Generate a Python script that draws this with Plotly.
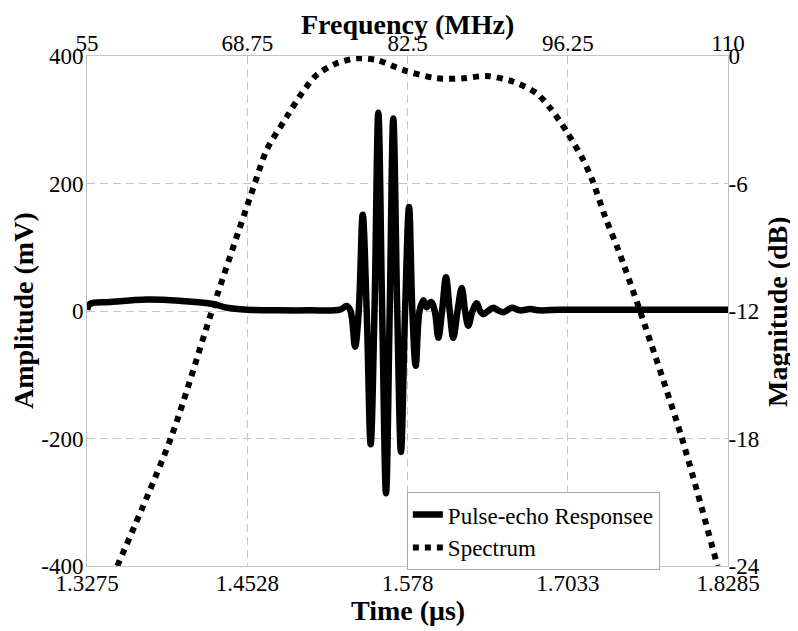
import plotly.graph_objects as go

# ---- Data ----
time_us = [1.3275, 1.3298, 1.3455, 1.3744, 1.4002, 1.4260, 1.4369, 1.4526, 1.4783, 1.5018,
           1.5252, 1.5305, 1.5335, 1.5370, 1.5399, 1.5430, 1.5461, 1.5492, 1.5522, 1.5552,
           1.5582, 1.5612, 1.5641, 1.5669, 1.5700, 1.5729, 1.5761, 1.5792, 1.5818, 1.5844,
           1.5874, 1.5904, 1.5930, 1.5964, 1.5993, 1.6021, 1.6050, 1.6081, 1.6110, 1.6138,
           1.6171, 1.6204, 1.6230, 1.6255, 1.6288, 1.6321, 1.6347, 1.6373, 1.6409, 1.6451,
           1.6487, 1.6529, 1.6558, 1.6595, 1.6659, 1.6738, 1.6816, 1.6972, 1.7285, 1.7676,
           1.8066, 1.8285]
amplitude_mv = [2, 11, 14, 18, 16, 11, 5, 2, 1, 1,
                2, 8, 0, -56, 0, 151, 0, -209, 0, 311,
                0, -286, 0, 302, 0, -221, 0, 163, 0, -86,
                0, 17, 6, 14, 0, -42, 0, 53, 0, -42,
                0, 36, 0, -23, 0, 12, 0, -5, 0, 5,
                1, -2, 1, 5, 1, 3, 1, 2, 2, 2,
                2, 2]

freq_mhz = [57.6, 62.21, 65.70, 69.42, 70.42, 72.14, 73.42, 74.71, 76.43, 78.14,
            79.86, 82.14, 85.01, 87.26, 89.30, 91.58, 93.59, 94.87, 96.16, 97.58,
            98.44, 99.45, 100.59, 102.45, 106.03, 109.1]
magnitude_db = [-24.0, -17.96, -12.03, -5.96, -4.42, -2.86, -1.76, -0.89, -0.34, -0.11,
                -0.19, -0.66, -1.05, -1.05, -0.94, -1.21, -1.76, -2.54, -3.56, -4.89,
                -5.96, -7.56, -9.13, -12.0, -17.96, -24.0]

time_ticks = [1.3275, 1.4528, 1.578, 1.7033, 1.8285]
time_tick_labels = ["1.3275", "1.4528", "1.578", "1.7033", "1.8285"]
freq_ticks = [55, 68.75, 82.5, 96.25, 110]
freq_tick_labels = ["55", "68.75", "82.5", "96.25", "110"]
amp_ticks = [-400, -200, 0, 200, 400]
amp_tick_labels = ["-400", "-200", "0", "200", "400"]
db_ticks = [-24, -18, -12, -6, 0]
db_tick_labels = ["-24", "-18", "-12", "-6", "0"]

FONT = "Liberation Serif, Times New Roman, serif"
TICKFONT = dict(family=FONT, size=23, color="black")
TITLEFONT = dict(family=FONT, size=28, color="black", weight="bold")
GRID = "#c4c4c4"
FRAME = "#c4c4c4"

fig = go.Figure()
fig.add_trace(go.Scatter(
    x=time_us, y=amplitude_mv, mode="lines", name="Pulse-echo Responsee",
    line=dict(color="black", width=6.5, shape="spline", smoothing=1.0),
    xaxis="x", yaxis="y"))
fig.add_trace(go.Scatter(
    x=freq_mhz, y=magnitude_db, mode="lines", name="Spectrum",
    line=dict(color="black", width=6, dash="6px,6px", shape="spline", smoothing=0.8),
    xaxis="x2", yaxis="y2"))

common = dict(showline=True, linecolor=FRAME, linewidth=1, ticks="", zeroline=False,
              tickfont=TICKFONT, automargin=False, fixedrange=True)

# the page body adds an 8px offset, so the figure is sized to the visible area
fig.update_layout(
    width=790, height=623,
    margin=dict(l=79, r=70, t=48, b=65),
    paper_bgcolor="white", plot_bgcolor="white",
    showlegend=True,
    xaxis=dict(range=[1.3275, 1.8285], tickmode="array", tickvals=time_ticks, ticktext=time_tick_labels,
               showgrid=True, gridcolor=GRID, gridwidth=1, griddash="8px,5px",
               ticklabelstandoff=-4, **common),
    xaxis2=dict(range=[55, 110], overlaying="x", side="top", anchor="y", tickmode="array",
                tickvals=freq_ticks, ticktext=freq_tick_labels, showgrid=False,
                ticklabelstandoff=-5, **common),
    yaxis=dict(range=[-400, 400], tickmode="array", tickvals=amp_ticks, ticktext=amp_tick_labels,
               showgrid=True, gridcolor=GRID, gridwidth=1, griddash="8px,5px",
               ticklabelstandoff=-2, **common),
    yaxis2=dict(range=[-24, 0], overlaying="y", side="right", anchor="x", tickmode="array",
                tickvals=db_ticks, ticktext=db_tick_labels, showgrid=False,
                ticklabelstandoff=-5, **common),
    legend=dict(x=0.499, y=-0.008, xanchor="left", yanchor="bottom", bgcolor="white",
                bordercolor="#a8a8a8", borderwidth=1,
                font=dict(family=FONT, size=23, color="black"),
                tracegroupgap=0, itemwidth=30),
    annotations=[
        dict(text="Frequency (MHz)", xref="paper", yref="paper", x=0.5, y=1.0618,
             xanchor="center", yanchor="middle", showarrow=False, font=TITLEFONT),
        dict(text="Time (μs)", xref="paper", yref="paper", x=0.5, y=-0.0882,
             xanchor="center", yanchor="middle", showarrow=False, font=TITLEFONT),
        dict(text="Amplitude (mV)", xref="paper", yref="paper", x=-0.0998, y=0.5,
             xanchor="center", yanchor="middle", textangle=-90, showarrow=False, font=TITLEFONT),
        dict(text="Magnitude (dB)", xref="paper", yref="paper", x=1.0764, y=0.5,
             xanchor="center", yanchor="middle", textangle=-90, showarrow=False, font=TITLEFONT),
    ],
)

fig.write_html("out.html")
